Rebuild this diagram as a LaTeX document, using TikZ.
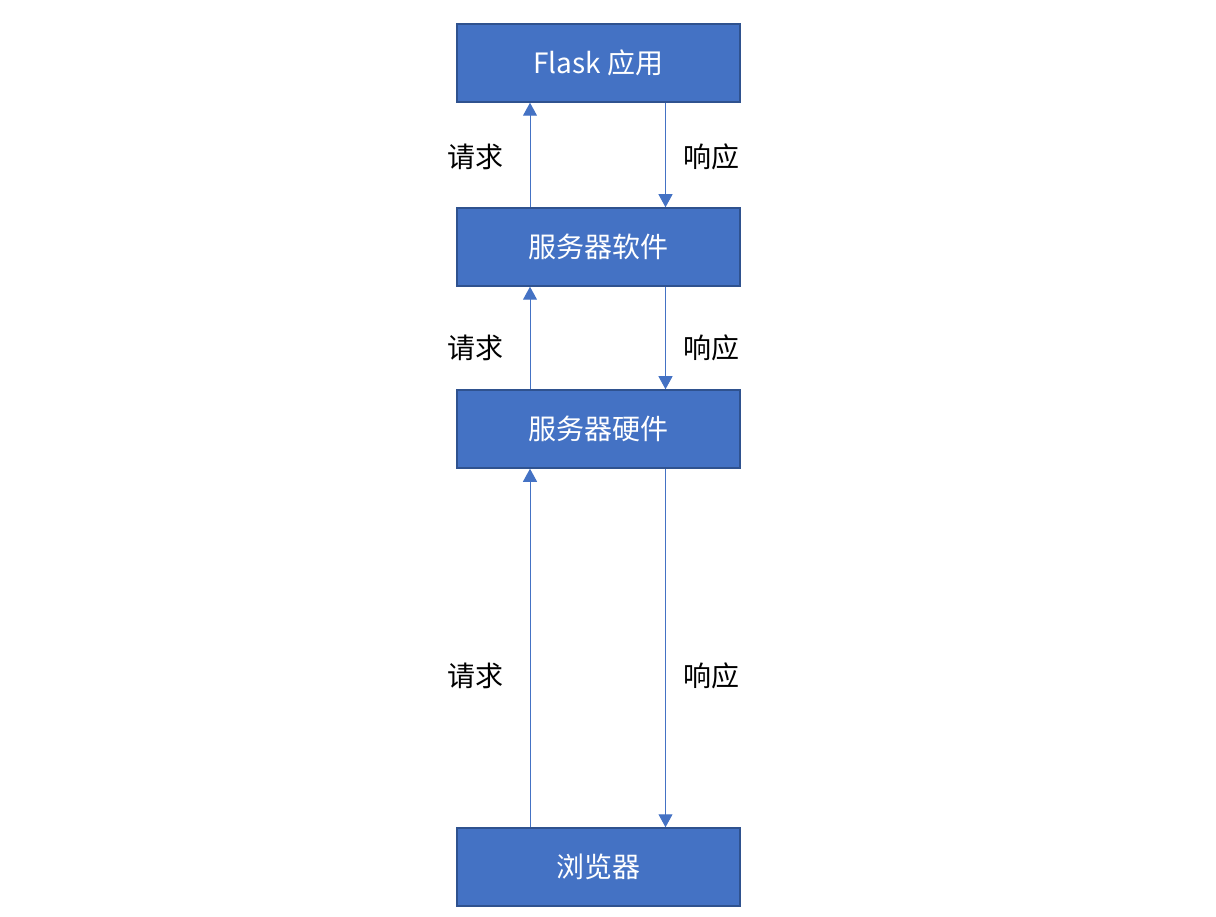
\documentclass[tikz,border=0pt]{standalone}
\usepackage{fontspec}
\newfontfamily\cjk{Noto Sans CJK SC}
\usetikzlibrary{arrows.meta}
\definecolor{boxfill}{HTML}{4472C4}
\definecolor{boxline}{HTML}{2F528F}
\definecolor{arrowc}{HTML}{4472C4}
\begin{document}
\begin{tikzpicture}[x=1pt,y=-1pt,
  layerbox/.style={draw=boxline,line width=1.5pt,fill=boxfill,minimum width=283pt,minimum height=78pt,inner sep=0pt,text=white,font=\cjk\fontsize{28}{32}\selectfont},
  lbl/.style={font=\cjk\fontsize{28}{32}\selectfont,text=black,inner sep=0pt},
  flow/.style={draw=arrowc,line width=1pt,-{Triangle[width=14pt,length=13pt]}}]
\useasboundingbox (0,0) rectangle (1216,917);
\node[layerbox] (flask) at (598.5,63) {Flask 应用};
\node[layerbox] (soft) at (598.5,247) {服务器软件};
\node[layerbox] (hard) at (598.5,429) {服务器硬件};
\node[layerbox] (browser) at (598.5,867) {浏览器};
% requests (up, left)
\draw[flow] ([xshift=-68.5pt]soft.north) -- ([xshift=-68.5pt]flask.south);
\draw[flow] ([xshift=-68.5pt]hard.north) -- ([xshift=-68.5pt]soft.south);
\draw[flow] ([xshift=-68.5pt]browser.north) -- ([xshift=-68.5pt]hard.south);
% responses (down, right)
\draw[flow] ([xshift=67pt]flask.south) -- ([xshift=67pt]soft.north);
\draw[flow] ([xshift=67pt]soft.south) -- ([xshift=67pt]hard.north);
\draw[flow] ([xshift=67pt]hard.south) -- ([xshift=67pt]browser.north);
\node[lbl] (q1) at (475,157) {请求};
\node[lbl] (q2) at (475,348) {请求};
\node[lbl] (q3) at (475,676) {请求};
\node[lbl] (r1) at (711,157) {响应};
\node[lbl] (r2) at (711,348) {响应};
\node[lbl] (r3) at (711,676) {响应};
\end{tikzpicture}
\end{document}
